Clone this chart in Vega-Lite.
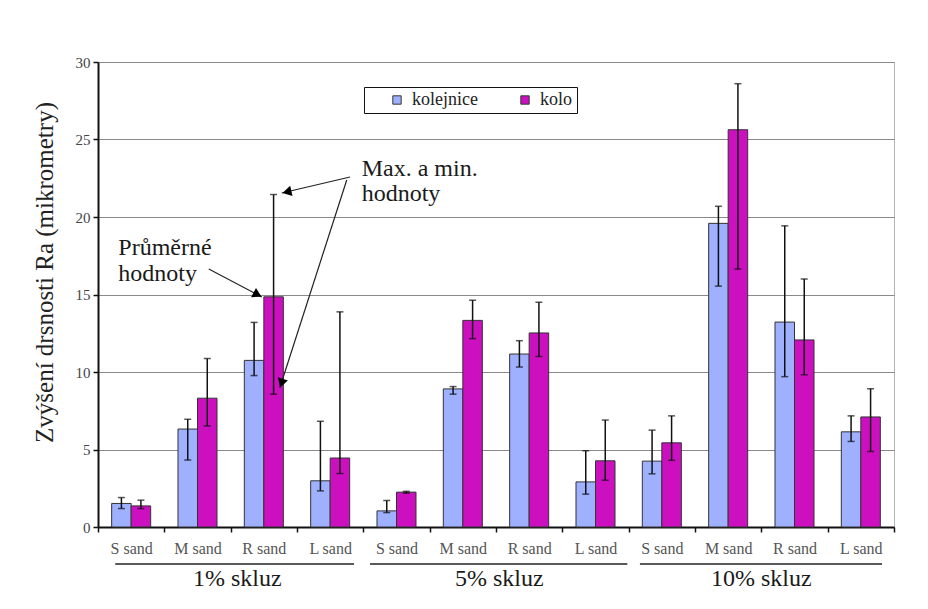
{
  "$schema": "https://vega.github.io/schema/vega-lite/v6.json",
  "width": 796,
  "height": 465,
  "autosize": {"type": "none"},
  "padding": {"left": 98, "top": 62, "right": 34, "bottom": 82},
  "background": "white",
  "config": {
    "font": "'Liberation Serif', 'DejaVu Serif', serif",
    "text": {"font": "'Liberation Serif', 'DejaVu Serif', serif"},
    "axis": {"labelFont": "'Liberation Serif', 'DejaVu Serif', serif", "titleFont": "'Liberation Serif', 'DejaVu Serif', serif"},
    "legend": {"labelFont": "'Liberation Serif', 'DejaVu Serif', serif"},
    "view": {"stroke": "#b4b4b4", "strokeWidth": 1}
  },
  "datasets": {
    "bars": [
      {"cat": "1% skluz|S sand", "series": "kolejnice", "value": 1.52, "lo": 1.19, "hi": 1.9},
      {"cat": "1% skluz|S sand", "series": "kolo", "value": 1.36, "lo": 1.19, "hi": 1.73},
      {"cat": "1% skluz|M sand", "series": "kolejnice", "value": 6.32, "lo": 4.32, "hi": 6.95},
      {"cat": "1% skluz|M sand", "series": "kolo", "value": 8.31, "lo": 6.52, "hi": 10.87},
      {"cat": "1% skluz|R sand", "series": "kolejnice", "value": 10.75, "lo": 9.77, "hi": 13.2},
      {"cat": "1% skluz|R sand", "series": "kolo", "value": 14.85, "lo": 8.57, "hi": 21.45},
      {"cat": "1% skluz|L sand", "series": "kolejnice", "value": 2.98, "lo": 2.33, "hi": 6.82},
      {"cat": "1% skluz|L sand", "series": "kolo", "value": 4.45, "lo": 3.45, "hi": 13.88},
      {"cat": "5% skluz|S sand", "series": "kolejnice", "value": 1.04, "lo": 0.93, "hi": 1.71},
      {"cat": "5% skluz|S sand", "series": "kolo", "value": 2.25, "lo": 2.18, "hi": 2.3},
      {"cat": "5% skluz|M sand", "series": "kolejnice", "value": 8.91, "lo": 8.57, "hi": 9.06},
      {"cat": "5% skluz|M sand", "series": "kolo", "value": 13.33, "lo": 12.15, "hi": 14.63},
      {"cat": "5% skluz|R sand", "series": "kolejnice", "value": 11.16, "lo": 10.32, "hi": 12.02},
      {"cat": "5% skluz|R sand", "series": "kolo", "value": 12.52, "lo": 11.0, "hi": 14.5},
      {"cat": "5% skluz|L sand", "series": "kolejnice", "value": 2.91, "lo": 2.12, "hi": 4.92},
      {"cat": "5% skluz|L sand", "series": "kolo", "value": 4.27, "lo": 3.02, "hi": 6.9},
      {"cat": "10% skluz|S sand", "series": "kolejnice", "value": 4.25, "lo": 3.43, "hi": 6.25},
      {"cat": "10% skluz|S sand", "series": "kolo", "value": 5.43, "lo": 4.3, "hi": 7.17},
      {"cat": "10% skluz|M sand", "series": "kolejnice", "value": 19.59, "lo": 15.54, "hi": 20.69},
      {"cat": "10% skluz|M sand", "series": "kolo", "value": 25.63, "lo": 16.64, "hi": 28.6},
      {"cat": "10% skluz|R sand", "series": "kolejnice", "value": 13.22, "lo": 9.7, "hi": 19.43},
      {"cat": "10% skluz|R sand", "series": "kolo", "value": 12.07, "lo": 9.82, "hi": 16.0},
      {"cat": "10% skluz|L sand", "series": "kolejnice", "value": 6.14, "lo": 5.52, "hi": 7.17},
      {"cat": "10% skluz|L sand", "series": "kolo", "value": 7.1, "lo": 4.87, "hi": 8.92}
    ],
    "groups": [
      {"g": "1% skluz", "s": 0.26, "e": 3.86, "m": 2.1},
      {"g": "5% skluz", "s": 4.1, "e": 7.98, "m": 6.05},
      {"g": "10% skluz", "s": 8.17, "e": 11.82, "m": 10.0}
    ],
    "arrows": [
      {"a": 1, "x1": 1.67, "y1": 16.65, "x2": 2.47, "y2": 14.84},
      {"a": 2, "x1": 3.8, "y1": 22.58, "x2": 2.77, "y2": 21.55},
      {"a": 3, "x1": 3.75, "y1": 22.39, "x2": 2.74, "y2": 8.97}
    ],
    "heads": [
      {"a": 1, "x": 2.405, "y": 14.99, "ang": 28},
      {"a": 2, "x": 2.848, "y": 21.62, "ang": 167},
      {"a": 3, "x": 2.766, "y": 9.28, "ang": 108}
    ],
    "notes": [
      {"t": "Průměrné", "x": 0.306, "y": 17.55},
      {"t": "hodnoty", "x": 0.306, "y": 15.87},
      {"t": "Max. a min.", "x": 3.975, "y": 22.65},
      {"t": "hodnoty", "x": 3.975, "y": 21.03}
    ]
  },
  "layer": [
    {
      "data": {"name": "bars"},
      "layer": [
        {
          "mark": {"type": "bar", "stroke": "#333333", "strokeWidth": 1},
          "encoding": {
            "x": {
              "field": "cat", "type": "nominal", "sort": null,
              "scale": {"paddingInner": 0, "paddingOuter": 0},
              "axis": {
                "title": null,
                "labelExpr": "split(datum.label, '|')[1]",
                "labelAngle": 0,
                "labelFontSize": 16,
                "labelColor": "#555555",
                "labelPadding": 8,
                "tickBand": "extent",
                "tickSize": 5,
                "tickColor": "#111111",
                "tickWidth": 1.5,
                "domainColor": "#111111",
                "domainWidth": 2,
                "grid": false
              }
            },
            "xOffset": {"field": "series", "type": "nominal", "sort": null, "scale": {"paddingInner": 0, "paddingOuter": 0.7}},
            "y": {
              "field": "value", "type": "quantitative",
              "title": "Zvýšení drsnosti Ra (mikrometry)",
              "scale": {"domain": [0, 30], "nice": false},
              "axis": {
                "values": [0, 5, 10, 15, 20, 25, 30],
                "grid": true,
                "gridColor": "#8a8a8a",
                "gridWidth": 1,
                "domainColor": "#111111",
                "domainWidth": 2,
                "tickColor": "#111111",
                "tickWidth": 1.5,
                "tickSize": 5,
                "labelFontSize": 15,
                "labelColor": "#444444",
                "labelPadding": 3,
                "titleFontSize": 25,
                "titleFontWeight": "normal",
                "titleColor": "#222222",
                "titleAngle": -90,
                "titleX": -54,
                "titleY": 210,
                "titleAlign": "center",
                "titleBaseline": "middle"
              }
            },
            "color": {
              "field": "series", "type": "nominal", "sort": null,
              "scale": {"domain": ["kolejnice", "kolo"], "range": ["#9fb0ff", "#cc10c0"]},
              "legend": {
                "title": null,
                "orient": "none",
                "legendX": 266,
                "legendY": 25,
                "direction": "horizontal",
                "strokeColor": "#111111",
                "fillColor": "white",
                "padding": 4,
                "labelFontSize": 18,
                "labelColor": "#222222",
                "labelOffset": 6,
                "symbolType": "square",
                "symbolSize": 70,
                "symbolStrokeColor": "#333333",
                "symbolStrokeWidth": 1,
                "symbolOffset": 20,
                "columnPadding": 18
              }
            }
          }
        },
        {
          "mark": {"type": "rule", "color": "#111111", "strokeWidth": 1.5},
          "encoding": {
            "x": {"field": "cat", "type": "nominal", "sort": null},
            "xOffset": {"field": "series", "type": "nominal", "sort": null},
            "y": {"field": "lo", "type": "quantitative", "title": "Zvýšení drsnosti Ra (mikrometry)"},
            "y2": {"field": "hi"}
          }
        },
        {
          "mark": {"type": "tick", "color": "#111111", "size": 7, "thickness": 1.5, "orient": "horizontal"},
          "encoding": {
            "x": {"field": "cat", "type": "nominal", "sort": null},
            "xOffset": {"field": "series", "type": "nominal", "sort": null},
            "y": {"field": "lo", "type": "quantitative", "title": "Zvýšení drsnosti Ra (mikrometry)"}
          }
        },
        {
          "mark": {"type": "tick", "color": "#111111", "size": 7, "thickness": 1.5, "orient": "horizontal"},
          "encoding": {
            "x": {"field": "cat", "type": "nominal", "sort": null},
            "xOffset": {"field": "series", "type": "nominal", "sort": null},
            "y": {"field": "hi", "type": "quantitative", "title": "Zvýšení drsnosti Ra (mikrometry)"}
          }
        }
      ]
    },
    {
      "layer": [
        {
          "data": {"name": "groups"},
          "mark": {"type": "rule", "color": "#222222", "strokeWidth": 1.5, "clip": false},
          "encoding": {
            "x": {"field": "s", "type": "quantitative", "scale": {"domain": [0, 12], "nice": false, "zero": false}, "axis": null},
            "x2": {"field": "e"},
            "y": {"datum": -2.39, "type": "quantitative", "title": "Zvýšení drsnosti Ra (mikrometry)"}
          }
        },
        {
          "data": {"name": "groups"},
          "mark": {"type": "text", "fontSize": 24, "color": "#1a1a1a", "baseline": "alphabetic", "align": "center", "clip": false},
          "encoding": {
            "x": {"field": "m", "type": "quantitative", "axis": null},
            "y": {"datum": -3.81, "type": "quantitative", "title": "Zvýšení drsnosti Ra (mikrometry)"},
            "text": {"field": "g", "type": "nominal"}
          }
        },
        {
          "data": {"name": "arrows"},
          "mark": {"type": "rule", "color": "#222222", "strokeWidth": 1.2},
          "encoding": {
            "x": {"field": "x1", "type": "quantitative", "axis": null},
            "x2": {"field": "x2"},
            "y": {"field": "y1", "type": "quantitative", "title": "Zvýšení drsnosti Ra (mikrometry)"},
            "y2": {"field": "y2"}
          }
        },
        {
          "data": {"name": "heads"},
          "mark": {"type": "point", "shape": "triangle-right", "filled": true, "color": "#000000", "size": 110, "opacity": 1},
          "encoding": {
            "x": {"field": "x", "type": "quantitative", "axis": null},
            "y": {"field": "y", "type": "quantitative", "title": "Zvýšení drsnosti Ra (mikrometry)"},
            "angle": {"field": "ang", "type": "quantitative", "scale": null}
          }
        },
        {
          "data": {"name": "notes"},
          "mark": {"type": "text", "fontSize": 24, "color": "#1a1a1a", "align": "left", "baseline": "alphabetic"},
          "encoding": {
            "x": {"field": "x", "type": "quantitative", "axis": null},
            "y": {"field": "y", "type": "quantitative", "title": "Zvýšení drsnosti Ra (mikrometry)"},
            "text": {"field": "t", "type": "nominal"}
          }
        }
      ]
    }
  ],
  "resolve": {"scale": {"x": "independent"}, "axis": {"x": "independent"}}
}
